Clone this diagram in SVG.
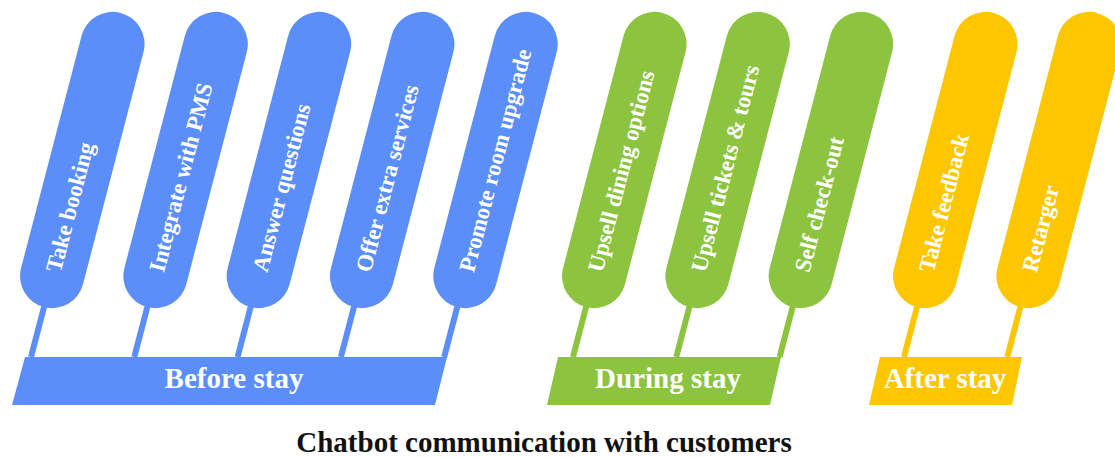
<svg xmlns="http://www.w3.org/2000/svg" width="1115" height="457" viewBox="0 0 1115 457">
  <style>
    .pill { stroke: none; }
    .blue { fill: #5b8ef8; }
    .green { fill: #8cc43f; }
    .yellow { fill: #fcc700; }
    .stem { stroke-width: 6; stroke-linecap: butt; fill: none; }
    .s-blue { stroke: #5b8ef8; }
    .s-green { stroke: #8cc43f; }
    .s-yellow { stroke: #fcc700; }
    .label { font-family: "Liberation Serif", "Times New Roman", serif; font-weight: bold; fill: #ffffff; }
    .item { font-size: 23px; dominant-baseline: central; text-anchor: start; }
    .phase { font-size: 29px; text-anchor: middle; }
    .title { font-family: "Liberation Serif", "Times New Roman", serif; font-weight: bold; font-size: 29px; fill: #111111; text-anchor: middle; }
  </style>
  <defs>
    <!-- slanted capsule, 64 wide, 304 long, centred on the origin -->
    <rect id="capsule" x="-32" y="-152" width="64" height="304" rx="32" ry="32"/>
  </defs>

  <!-- connectors: stems from each capsule down to its phase bar -->
  <g id="connectors">
    <line class="stem s-blue" x1="44.3" y1="306" x2="31" y2="357"/>
    <line class="stem s-blue" x1="147.6" y1="306" x2="134.3" y2="357"/>
    <line class="stem s-blue" x1="250.9" y1="306" x2="237.6" y2="357"/>
    <line class="stem s-blue" x1="354.2" y1="306" x2="340.9" y2="357"/>
    <line class="stem s-blue" x1="457.5" y1="306" x2="444.2" y2="357"/>
    <line class="stem s-green" x1="586.3" y1="306" x2="573" y2="357"/>
    <line class="stem s-green" x1="689.6" y1="306" x2="676.3" y2="357"/>
    <line class="stem s-green" x1="792.9" y1="306" x2="779.6" y2="357"/>
    <line class="stem s-yellow" x1="917.3" y1="306" x2="904" y2="357"/>
    <line class="stem s-yellow" x1="1020.6" y1="306" x2="1007.3" y2="357"/>
  </g>

  <!-- before stay -->
  <g id="take-booking" transform="translate(82.3,160) rotate(14.6)">
    <use href="#capsule" class="pill blue"/>
    <text class="label item" transform="translate(0,115) rotate(-90)">Take booking</text>
  </g>
  <g id="integrate-pms" transform="translate(185.6,160) rotate(14.6)">
    <use href="#capsule" class="pill blue"/>
    <text class="label item" transform="translate(0,115) rotate(-90)">Integrate with PMS</text>
  </g>
  <g id="answer-questions" transform="translate(288.9,160) rotate(14.6)">
    <use href="#capsule" class="pill blue"/>
    <text class="label item" transform="translate(0,115) rotate(-90)">Answer questions</text>
  </g>
  <g id="offer-extra" transform="translate(392.2,160) rotate(14.6)">
    <use href="#capsule" class="pill blue"/>
    <text class="label item" transform="translate(0,115) rotate(-90)">Offer extra services</text>
  </g>
  <g id="promote-upgrade" transform="translate(495.5,160) rotate(14.6)">
    <use href="#capsule" class="pill blue"/>
    <text class="label item" transform="translate(0,115) rotate(-90)">Promote room upgrade</text>
  </g>
  <g id="before-stay">
    <path class="blue" d="M25,357 L447,357 L435,405 L12,405 Z"/>
    <text class="label phase" x="234" y="388">Before stay</text>
  </g>

  <!-- during stay -->
  <g id="upsell-dining" transform="translate(624.3,160) rotate(14.6)">
    <use href="#capsule" class="pill green"/>
    <text class="label item" transform="translate(0,115) rotate(-90)">Upsell dining options</text>
  </g>
  <g id="upsell-tickets" transform="translate(727.6,160) rotate(14.6)">
    <use href="#capsule" class="pill green"/>
    <text class="label item" transform="translate(0,115) rotate(-90)">Upsell tickets &amp; tours</text>
  </g>
  <g id="self-checkout" transform="translate(830.9,160) rotate(14.6)">
    <use href="#capsule" class="pill green"/>
    <text class="label item" transform="translate(0,115) rotate(-90)">Self check-out</text>
  </g>
  <g id="during-stay">
    <path class="green" d="M558,357 L781,357 L770,405 L547,405 Z"/>
    <text class="label phase" x="668" y="388">During stay</text>
  </g>

  <!-- after stay -->
  <g id="take-feedback" transform="translate(955.3,160) rotate(14.6)">
    <use href="#capsule" class="pill yellow"/>
    <text class="label item" transform="translate(0,115) rotate(-90)">Take feedback</text>
  </g>
  <g id="retarget" transform="translate(1058.6,160) rotate(14.6)">
    <use href="#capsule" class="pill yellow"/>
    <text class="label item" transform="translate(0,115) rotate(-90)">Retarger</text>
  </g>
  <g id="after-stay">
    <path class="yellow" d="M880,357 L1022,357 L1012,405 L869,405 Z"/>
    <text class="label phase" x="945" y="388">After stay</text>
  </g>

  <text id="title" class="title" x="544" y="452">Chatbot communication with customers</text>
</svg>
